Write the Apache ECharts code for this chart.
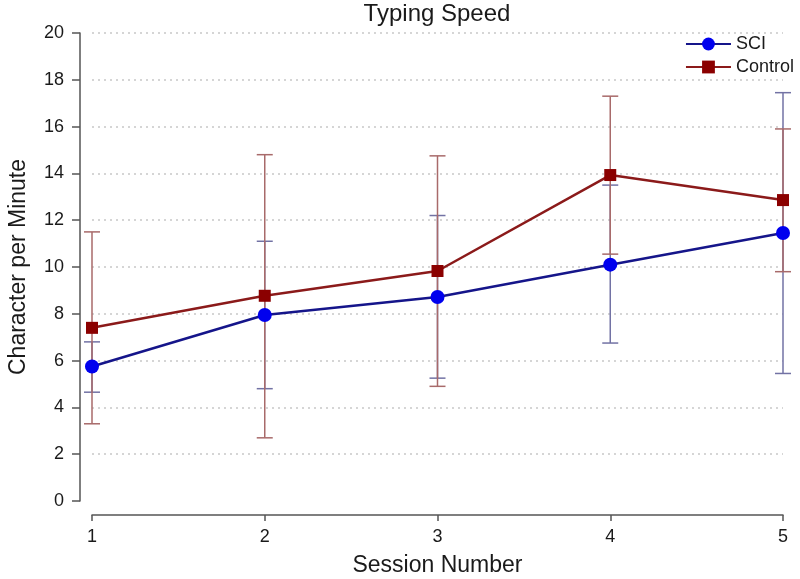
<!DOCTYPE html>
<html>
<head>
<meta charset="utf-8">
<script src="https://cdn.jsdelivr.net/npm/echarts@6/dist/echarts.min.js"></script>
<style>
html,body{margin:0;padding:0;background:#fff;}
#chart{width:800px;height:579px;}
</style>
</head>
<body>
<div id="chart"></div>
<script>
const sessions = [1, 2, 3, 4, 5];
const yTicks = [0, 2, 4, 6, 8, 10, 12, 14, 16, 18, 20];
const sciMean = [5.75, 7.95, 8.72, 10.1, 11.45];
const sciUpper = [6.8, 11.1, 12.2, 13.5, 17.45];
const sciLower = [4.65, 4.8, 5.25, 6.75, 5.45];
const ctlMean = [7.4, 8.77, 9.83, 13.93, 12.86];
const ctlUpper = [11.5, 14.8, 14.75, 17.3, 15.9];
const ctlLower = [3.3, 2.7, 4.9, 10.55, 9.8];

const FONT = 'Liberation Sans, Arial, sans-serif';

function errSeries(name, lower, upper, color) {
  return {
    name: name,
    type: 'custom',
    clip: false,
    z: 1,
    silent: true,
    data: sessions.map((s, i) => [s, lower[i], upper[i]]),
    renderItem: function (params, api) {
      const x = api.value(0);
      const top = api.coord([x, api.value(2)]);
      const bot = api.coord([x, api.value(1)]);
      const w = 8;
      const st = { stroke: color, lineWidth: 1.5 };
      return {
        type: 'group',
        children: [
          { type: 'line', shape: { x1: top[0], y1: top[1], x2: bot[0], y2: bot[1] }, style: st },
          { type: 'line', shape: { x1: top[0] - w, y1: top[1], x2: top[0] + w, y2: top[1] }, style: st },
          { type: 'line', shape: { x1: bot[0] - w, y1: bot[1], x2: bot[0] + w, y2: bot[1] }, style: st }
        ]
      };
    }
  };
}

const chart = echarts.init(document.getElementById('chart'), null, { renderer: 'canvas' });
chart.setOption({
  animation: false,
  backgroundColor: '#ffffff',
  textStyle: { fontFamily: FONT },
  title: {
    text: 'Typing Speed',
    left: 437,
    top: 2,
    padding: 0,
    textAlign: 'center',
    textStyle: { fontSize: 24, fontWeight: 'normal', color: '#1a1a1a', fontFamily: FONT }
  },
  legend: {
    orient: 'vertical',
    right: 6,
    top: 35,
    padding: 0,
    itemGap: 5,
    itemWidth: 45,
    itemHeight: 16,
    data: ['SCI', 'Control'],
    textStyle: { fontSize: 18, color: '#1a1a1a', fontFamily: FONT }
  },
  grid: { left: 92, right: 17, top: 33, bottom: 78, containLabel: false, outerBoundsMode: 'none' },
  xAxis: {
    type: 'value',
    min: 1,
    max: 5,
    interval: 1,
    offset: 14,
    name: 'Session Number',
    nameLocation: 'middle',
    nameGap: 39,
    nameTextStyle: { fontSize: 23, color: '#1a1a1a', fontFamily: FONT },
    axisLine: { show: true, onZero: false, lineStyle: { color: '#555', width: 1.5 } },
    axisTick: { show: true, length: 6, lineStyle: { color: '#555', width: 1.5 } },
    axisLabel: { fontSize: 18, color: '#1a1a1a', margin: 13, fontFamily: FONT },
    splitLine: { show: false }
  },
  yAxis: {
    type: 'value',
    min: 0,
    max: 20,
    interval: 2,
    offset: 12,
    name: 'Character per Minute',
    nameLocation: 'middle',
    nameGap: 50,
    nameTextStyle: { fontSize: 23, color: '#1a1a1a', fontFamily: FONT },
    axisLine: { show: true, onZero: false, lineStyle: { color: '#555', width: 1.5 } },
    axisTick: { show: true, length: 8, lineStyle: { color: '#555', width: 1.5 } },
    axisLabel: { fontSize: 18, color: '#1a1a1a', margin: 16, fontFamily: FONT,
      formatter: v => (yTicks.indexOf(v) >= 0 ? String(v) : '') },
    splitLine: { show: true, showMinLine: false, lineStyle: { color: '#c8c8c8', width: 1.5, type: [2, 4] } }
  },
  series: [
    errSeries('SCI err', sciLower, sciUpper, '#7272a4'),
    errSeries('Control err', ctlLower, ctlUpper, '#a86a6a'),
    {
      name: 'SCI',
      type: 'line',
      z: 3,
      data: sessions.map((s, i) => [s, sciMean[i]]),
      symbol: 'circle',
      symbolSize: 14,
      lineStyle: { color: '#15158a', width: 2.5 },
      itemStyle: { color: '#0000ee' },
      clip: false
    },
    {
      name: 'Control',
      type: 'line',
      z: 3,
      data: sessions.map((s, i) => [s, ctlMean[i]]),
      symbol: 'rect',
      symbolSize: 12,
      lineStyle: { color: '#8b1a1a', width: 2.5 },
      itemStyle: { color: '#8b0000' },
      clip: false
    }
  ]
});
</script>
</body>
</html>
